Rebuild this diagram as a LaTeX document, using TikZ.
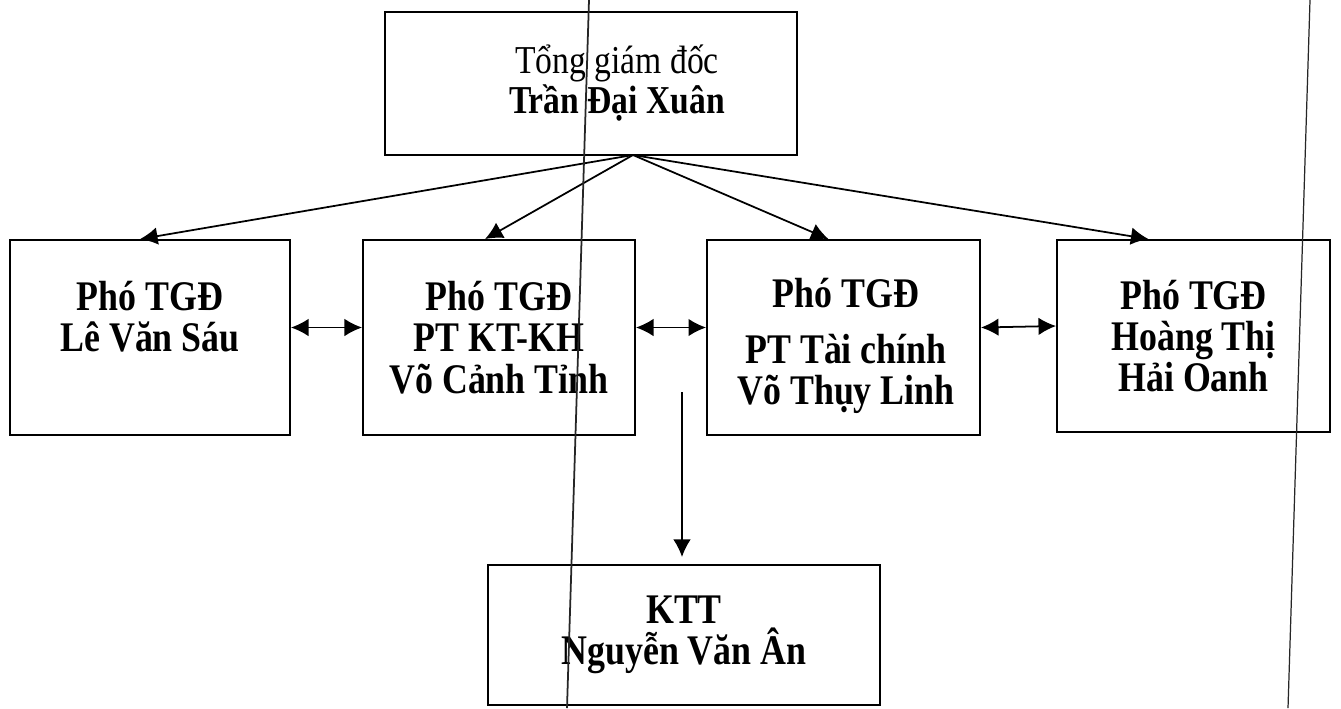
\documentclass[tikz,border=0pt]{standalone}
\usepackage{fontspec}
\setmainfont{Liberation Serif}[FakeStretch=0.85]
\usetikzlibrary{arrows.meta,positioning,calc}
\newcommand{\boxfont}{\fontsize{24}{23.5}\selectfont\bfseries}
\newcommand{\headfont}{\fontsize{22.5}{22.5}\selectfont}

\begin{document}
\begin{tikzpicture}[x=0.02cm,y=-0.02cm,
  box/.style={draw,line width=1.1pt,minimum width=5.46cm,minimum height=3.9cm,
    align=center,font=\boxfont,inner sep=0pt},
  txt/.style={align=center,font=\boxfont,inner sep=0pt},
  link/.style={line width=1pt,-{Latex[length=10pt,width=10pt]}},
  both/.style={line width=1pt,{Latex[length=10pt,width=10pt]}-{Latex[length=10pt,width=10pt]}},
  crease/.style={line width=1pt,black!85}]
  \fill[white] (0,0) rectangle (1341,708);
  \useasboundingbox (0,0) rectangle (1341,708);

  \node[box,minimum width=8.24cm,minimum height=2.86cm] (tgd) at (591,83.5) {};
  \node[txt,font=\headfont] (tgdname) at (617,83) {Tổng giám đốc\\\textbf{Trần Đại Xuân}};
  \node[box,minimum width=5.6cm] (p1) at (150,337.5) {};
  \node[txt] (p1name) at (150,317) {Phó TGĐ\\Lê Văn Sáu};
  \node[box,minimum width=5.44cm] (p2) at (499,337.5) {Phó TGĐ\\PT KT-KH\\Võ Cảnh Tỉnh};
  \node[box] (p3) at (843.5,337.5) {};
  \node[txt] (p3name) at (846,346) {Phó TGĐ\\[8pt]PT Tài chính\\Võ Thụy Linh};
  \node[box,minimum height=3.84cm] (p4) at (1193.5,336) {Phó TGĐ\\Hoàng Thị\\Hải Oanh};
  \node[box,minimum width=7.84cm,minimum height=2.8cm] (ktt) at (684,635)
    {KTT\\Nguyễn Văn Ân};

  \coordinate (hub) at (633,155);
  \draw[link] (hub) -- ($(p1.north)+(-10,0)$);
  \draw[link] (hub) -- ($(p2.north)+(-14,0)$);
  \draw[link] (hub) -- ($(p3.north)+(-15,0)$);
  \draw[link] (hub) -- ($(p4.north)+(-45,0)$);

  \draw[both] ($(p1.east)+(0,-10)$) -- ($(p2.west)+(0,-10)$);
  \draw[both] ($(p2.east)+(0,-10)$) -- ($(p3.west)+(0,-10)$);
  \draw[both] ($(p3.east)+(0,-10)$) -- ($(p4.west)+(0,-10)$);

  \coordinate (kstart) at (682,392);
  \draw[link,shorten >=4pt] (kstart) -- (kstart |- ktt.north);

  \draw[crease] (589,0) -- (567,708);
  \draw[crease,line width=0.7pt] (1310,0) -- (1288,708);
\end{tikzpicture}
\end{document}
